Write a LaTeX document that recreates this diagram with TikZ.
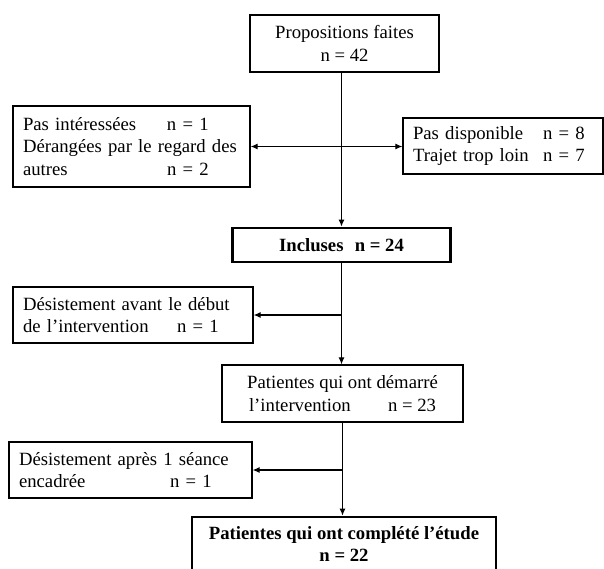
\documentclass[tikz,border=0pt]{standalone}
\usepackage{fontspec}
\setmainfont{Liberation Serif}
\usetikzlibrary{arrows.meta}
\tikzset{box/.style={draw,line width=1.3pt,rectangle,inner ysep=0pt,inner xsep=10pt,font=\fontsize{18.7}{22.8}\selectfont}}
\tikzset{thickbox/.style={box,line width=2.8pt,font=\fontsize{18.7}{22.8}\selectfont\bfseries}}
\tikzset{flow/.style={line width=1.1pt,-{Latex[length=7pt,width=6pt]}}}

\begin{document}
\begin{tikzpicture}[x=1pt,y=-1pt]
\useasboundingbox (0,0) rectangle (604,568);
\node[box,align=center,minimum width=189pt,minimum height=57pt] (prop) at (344.5,43.5) {Propositions faites\\n = 42};
\node[box,align=left,text width=217pt,minimum height=81pt] (pasint) at (131.5,146.5) {\makebox[144pt][l]{Pas intéressées}n = 1\\Dérangées par le regard des\\\makebox[144pt][l]{autres}n = 2};
\node[box,align=left,text width=180pt,minimum height=56pt] (pasdisp) at (503,146) {\makebox[130pt][l]{Pas disponible}n = 8\\\makebox[130pt][l]{Trajet trop loin}n = 7};
\node[thickbox,minimum width=218pt,minimum height=34pt] (incl) at (341.5,245) {Incluses\hspace{0.6em}n = 24};
\node[box,align=left,text width=220pt,minimum height=56pt] (desav) at (133,315) {Désistement avant le début\\\makebox[154pt][l]{de l’intervention}n = 1};
\node[box,align=center,minimum width=241pt,minimum height=57pt] (dem) at (342.5,393.5) {Patientes qui ont démarré\\\makebox[139pt][l]{l’intervention}n = 23};
\node[box,align=left,text width=223pt,minimum height=56pt] (desap) at (130.5,470) {Désistement après 1 séance\\\makebox[151pt][l]{encadrée}n = 1};
\node[thickbox,align=center,minimum width=304pt,minimum height=54pt] (fin) at (344,544) {Patientes qui ont complété l’étude\\n = 22};
\coordinate (j1) at (incl.south |- desav.east);
\coordinate (j2) at (dem.south |- desap.east);
\draw[flow] (prop.south -| incl.north) -- (incl.north);
\draw[line width=1.1pt,{Latex[length=7pt,width=6pt]}-{Latex[length=7pt,width=6pt]}] (pasint.east) -- (pasint.east -| pasdisp.west);
\draw[flow] (incl.south) -- (incl.south |- dem.north);
\draw[flow] (j1) -- (desav.east);
\draw[flow] (dem.south) -- (dem.south |- fin.north);
\draw[flow] (j2) -- (desap.east);
\end{tikzpicture}
\end{document}
